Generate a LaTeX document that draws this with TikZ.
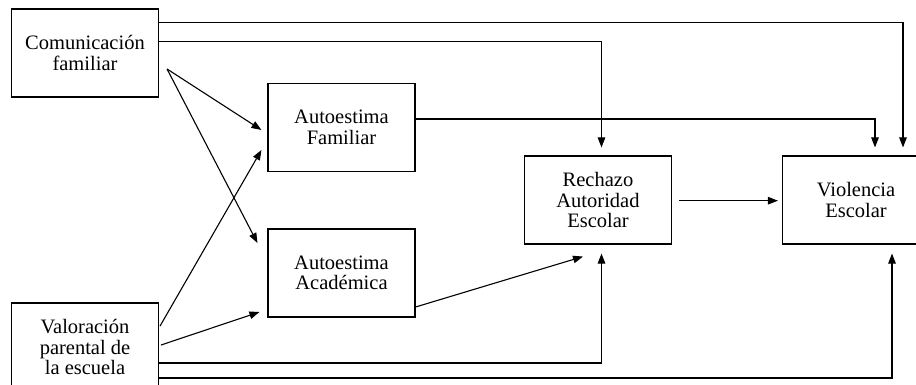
\documentclass[tikz,border=0pt]{standalone}
\usepackage{fontspec}
\setmainfont{Liberation Serif}
\usetikzlibrary{arrows.meta,calc}
\begin{document}
\begin{tikzpicture}[x=1pt,y=-1pt,
  box/.style={draw,line width=1.1pt,minimum width=147pt,minimum height=88pt,
    align=center,inner sep=0pt,font=\fontsize{20.5}{20.5}\selectfont},
  conn/.style={line width=1.1pt},
  arr/.style={conn,-{Triangle[length=10pt,width=7.5pt]}}]
\useasboundingbox (0,0) rectangle (916,385);
\clip (0,0) rectangle (916,385);
\node[box] (cf) at (85,53) {Comunicación\\familiar};
\node[box] (vp) at (85,347) {Valoración\\parental de\\la escuela};
\node[box] (af) at (341.5,127.5) {Autoestima\\Familiar};
\node[box] (aa) at (341.5,273) {Autoestima\\Académica};
\node[box] (rae) at (598,200) {Rechazo\\Autoridad\\Escolar};
\node[box] (ve) at (856,200) {Violencia\\Escolar};
% from Comunicación familiar
\draw[arr] (cf.east |- 0,22.7) -| ([xshift=47pt,yshift=8pt]ve.north);
\draw[arr] (cf.east |- 0,41.7) -| ([xshift=3.5pt,yshift=8pt]rae.north);
\coordinate (cfs) at ([xshift=8pt,yshift=-16pt]cf.east);
\draw[arr] (cfs) -- ([xshift=-6pt,yshift=-2.5pt]af.west);
\draw[arr] (cfs) -- ([xshift=-10pt,yshift=30pt]aa.west);
% from Valoración parental
\draw[arr] ([xshift=1pt,yshift=21pt]vp.east) -- ([xshift=-6pt,yshift=-22.5pt]af.west);
\draw[arr] ([xshift=2pt,yshift=2pt]vp.east) -- ([xshift=-8pt,yshift=-39pt]aa.west);
\draw[arr] (vp.east |- 0,363) -| ([xshift=3.5pt,yshift=-9pt]rae.south);
\draw[arr] (vp.east |- 0,378) -| ([xshift=36pt,yshift=-9pt]ve.south);
% others
\draw[arr] (af.east |- 0,119) -| ([xshift=19pt,yshift=8pt]ve.north);
\draw[arr] (aa.east |- 0,307) -- ([xshift=-15pt,yshift=-12pt]rae.south);
\draw[arr] ([xshift=7pt,yshift=-0.7pt]rae.east) -- ([xshift=-4pt,yshift=-0.7pt]ve.west);
\end{tikzpicture}
\end{document}
